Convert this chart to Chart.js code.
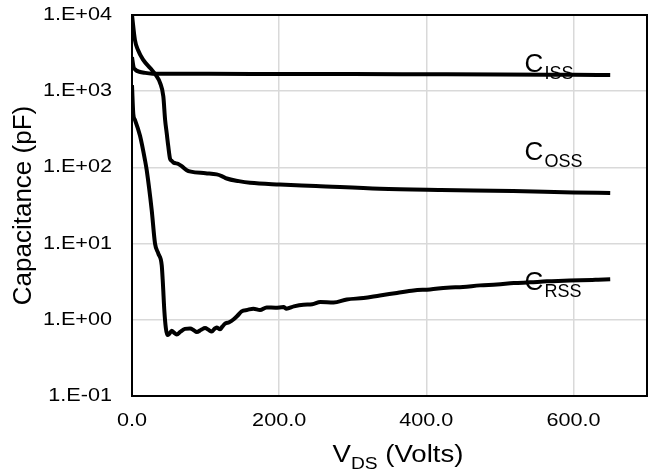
<!DOCTYPE html>
<html>
<head>
<meta charset="utf-8">
<script src="https://cdn.jsdelivr.net/npm/chart.js@4"></script>
<style>
  body { margin: 0; background: #fff; }
  canvas { display: block; }
</style>
</head>
<body>
<canvas id="capChart" width="648" height="476"></canvas>
<script>
// capacitance vs drain-source voltage
const cissV = [0, 2, 5, 10, 18, 28, 40, 100, 200, 300, 400, 500, 600, 650];
const cissC = [2800, 2100, 1900, 1800, 1740, 1700, 1690, 1690, 1685, 1680, 1670, 1660, 1640, 1630];

const cossV = [0, 4, 8, 15, 25, 33, 38, 42.6, 45, 47.2, 49.4, 51.7, 54, 56.2, 63, 67.6, 74.4, 80, 100, 115, 122, 128.8, 145, 160.5, 201, 250, 337, 420, 518, 600, 650];
const cossC = [10000, 4700, 3500, 2600, 2000, 1600, 1300, 850, 420, 280, 186, 130, 122, 116, 111, 104, 92, 88, 84, 81, 77, 71.5, 66, 62.7, 59.6, 57, 52.3, 50.5, 49.1, 47, 46.2];

const crssV = [0, 1.8, 4, 10.9, 17.7, 20, 26.8, 31.3, 35.8, 40.4, 42, 44, 46, 48, 51, 54, 57, 60.8, 66, 72, 79, 84, 88, 94, 99.3, 104, 108.4, 112, 115, 119.7, 123, 126.5, 132, 137.8, 143, 149, 157, 165, 174, 183, 195, 206, 210, 220, 233, 245, 256, 274, 292, 314.6, 337, 360, 382.7, 405, 428, 450, 473, 496, 519, 541, 564, 587, 609.5, 630, 650];
const crssC = [1200, 500, 420, 260, 124, 92, 27.4, 10, 7.4, 5.2, 3.0, 1.3, 0.78, 0.63, 0.66, 0.72, 0.68, 0.64, 0.70, 0.76, 0.77, 0.73, 0.69, 0.74, 0.78, 0.74, 0.70, 0.76, 0.79, 0.75, 0.82, 0.89, 0.93, 1.01, 1.12, 1.29, 1.35, 1.40, 1.34, 1.45, 1.44, 1.47, 1.40, 1.50, 1.58, 1.60, 1.71, 1.69, 1.85, 1.93, 2.09, 2.25, 2.43, 2.50, 2.64, 2.70, 2.83, 2.90, 3.03, 3.10, 3.20, 3.25, 3.30, 3.35, 3.40];

const xTicks = [0, 200, 400, 600];
const yTicks = [0.1, 1, 10, 100, 1000, 10000];

// curve labels: main letter, subscript, baseline anchor (x, y)
const curveLabels = [
  { main: "C", sub: "ISS", x: 535, y: 1786 },
  { main: "C", sub: "OSS", x: 535, y: 125 },
  { main: "C", sub: "RSS", x: 535, y: 2.46 }
];

const FONT = "'Liberation Sans', Arial, sans-serif";

const pts = (xs, ys) => xs.map((x, i) => ({ x: x, y: ys[i] }));

function stretchedText(ctx, str, x, y, size, sx, align, base) {
  ctx.save();
  ctx.translate(x, y);
  ctx.scale(sx, 1);
  ctx.font = size + "px " + FONT;
  ctx.textAlign = align;
  ctx.textBaseline = base;
  ctx.fillText(str, 0, 0);
  ctx.restore();
}

function expLabel(v) {
  const e = Math.round(Math.log10(v));
  return "1.E" + (e < 0 ? "-" : "+") + String(Math.abs(e)).padStart(2, "0");
}

const textPlugin = {
  id: "textPlugin",
  afterDraw(chart) {
    const ctx = chart.ctx;
    const a = chart.chartArea;
    const xs = chart.scales.x;
    const ys = chart.scales.y;

    // plot frame
    ctx.save();
    ctx.strokeStyle = "#000";
    ctx.lineWidth = 2;
    ctx.strokeRect(a.left, a.top, a.right - a.left, a.bottom - a.top);
    ctx.restore();

    ctx.fillStyle = "#000";
    // tick labels
    ys.ticks.forEach(t => {
      stretchedText(ctx, expLabel(t.value), 112, ys.getPixelForValue(t.value), 18, 1.2, "right", "middle");
    });
    xs.ticks.forEach(t => {
      stretchedText(ctx, t.value.toFixed(1), xs.getPixelForValue(t.value), 421, 18, 1.2, "center", "middle");
    });

    // y title, rotated
    ctx.save();
    ctx.translate(24, (a.top + a.bottom) / 2);
    ctx.rotate(-Math.PI / 2);
    ctx.font = "26px " + FONT;
    ctx.textAlign = "center";
    ctx.textBaseline = "middle";
    ctx.fillText("Capacitance (pF)", 0, 0);
    ctx.restore();

    // x title with subscript
    ctx.save();
    const sx = 1.2;
    ctx.font = "23px " + FONT;
    const wV = ctx.measureText("V").width;
    const wRest = ctx.measureText(" (Volts)").width;
    ctx.font = "16px " + FONT;
    const wDS = ctx.measureText("DS").width;
    const total = (wV + wDS + wRest) * sx;
    let x0 = 398 - total / 2;
    stretchedText(ctx, "V", x0, 462, 23, sx, "left", "alphabetic");
    x0 += wV * sx;
    stretchedText(ctx, "DS", x0, 469, 16, sx, "left", "alphabetic");
    x0 += wDS * sx;
    stretchedText(ctx, " (Volts)", x0, 462, 23, sx, "left", "alphabetic");
    ctx.restore();

    // curve labels
    curveLabels.forEach(l => {
      const px = xs.getPixelForValue(l.x) - 1;
      const py = ys.getPixelForValue(l.y);
      ctx.font = "26px " + FONT;
      ctx.textAlign = "left";
      ctx.textBaseline = "alphabetic";
      const w = ctx.measureText(l.main).width;
      ctx.fillText(l.main, px, py);
      ctx.font = "18px " + FONT;
      ctx.fillText(l.sub, px + w + 1, py + 7);
    });
  }
};

const lineStyle = {
  showLine: true,
  pointRadius: 0,
  borderColor: "#000",
  borderWidth: 4,
  cubicInterpolationMode: "monotone",
  fill: false
};

new Chart(document.getElementById("capChart"), {
  type: "scatter",
  data: {
    datasets: [
      Object.assign({ label: "Ciss", data: pts(cissV, cissC) }, lineStyle),
      Object.assign({ label: "Coss", data: pts(cossV, cossC) }, lineStyle),
      Object.assign({ label: "Crss", data: pts(crssV, crssC) }, lineStyle)
    ]
  },
  options: {
    responsive: false,
    animation: false,
    devicePixelRatio: 1,
    layout: { padding: { left: 132, top: 15, right: 1, bottom: 80 } },
    plugins: {
      legend: { display: false },
      tooltip: { enabled: false }
    },
    scales: {
      x: {
        type: "linear",
        min: 0,
        max: 700,
        afterBuildTicks: s => { s.ticks = xTicks.map(v => ({ value: v })); },
        ticks: { display: false },
        grid: { color: "#d9d9d9", lineWidth: 1.5, drawTicks: false },
        border: { display: false }
      },
      y: {
        type: "logarithmic",
        min: 0.1,
        max: 10000,
        afterBuildTicks: s => { s.ticks = yTicks.map(v => ({ value: v })); },
        ticks: { display: false },
        grid: { color: "#d9d9d9", lineWidth: 1.5, drawTicks: false },
        border: { display: false }
      }
    }
  },
  plugins: [textPlugin]
});
</script>
</body>
</html>
